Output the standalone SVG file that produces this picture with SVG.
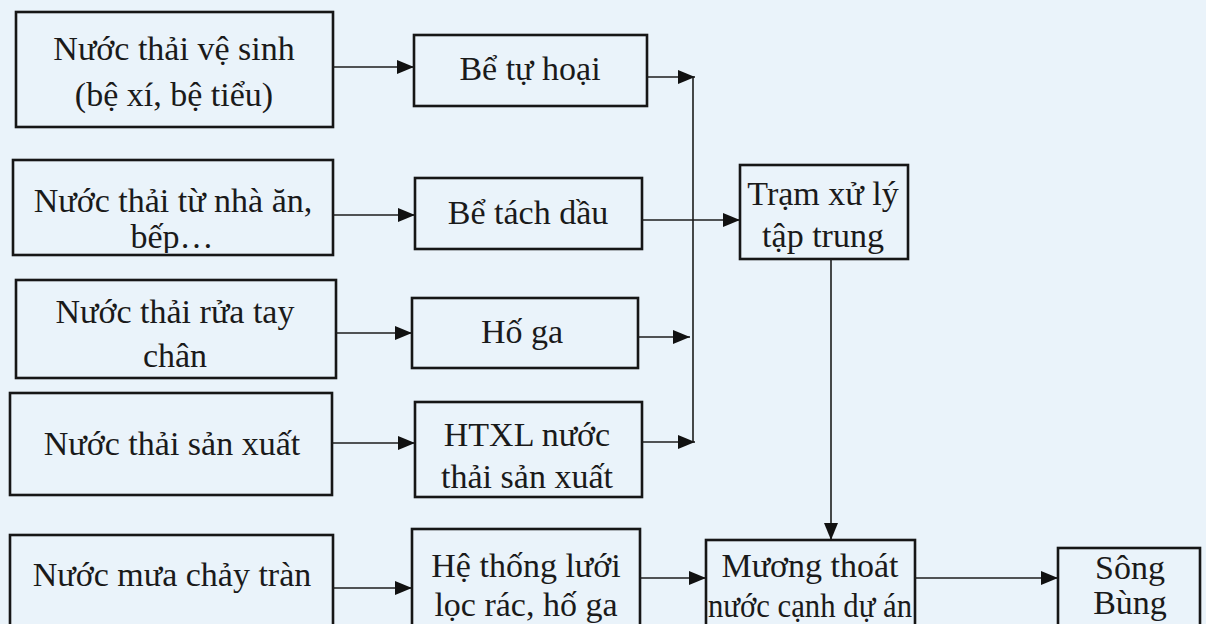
<svg xmlns="http://www.w3.org/2000/svg" width="1206" height="624" viewBox="0 0 1206 624">
<defs>
<style>
.box{fill:none;stroke:#161616;stroke-width:2.6}
.t{font-family:"Liberation Serif","Times New Roman",serif;font-size:34px;fill:#1a1a1a;text-anchor:middle}
.c{fill:none;stroke:#1c1c1c;stroke-width:1.6}
</style>
<marker id="ah" markerUnits="userSpaceOnUse" markerWidth="18" markerHeight="14" refX="17" refY="7" orient="auto">
<path d="M0,0 L17,7 L0,14 z" fill="#111"/>
</marker>
<clipPath id="clip2"><rect x="13" y="160" width="320" height="93"/></clipPath>
</defs>
<rect width="1206" height="624" fill="#eaf3fa"/>

<g id="n1"><rect class="box" x="16" y="12" width="317" height="115"/><text class="t" x="174" y="60">Nước thải vệ sinh</text><text class="t" x="174" y="106">(bệ xí, bệ tiểu)</text></g>
<g id="n2"><rect class="box" x="13" y="160" width="320" height="95"/><text class="t" x="173" y="212">Nước thải từ nhà ăn,</text><text class="t" x="172" y="248" clip-path="url(#clip2)">bếp…</text></g>
<g id="n3"><rect class="box" x="16" y="280" width="320" height="98"/><text class="t" x="175" y="323">Nước thải rửa tay</text><text class="t" x="175" y="367">chân</text></g>
<g id="n4"><rect class="box" x="10" y="393" width="322" height="102"/><text class="t" x="172" y="455">Nước thải sản xuất</text></g>
<g id="n5"><rect class="box" x="10" y="535" width="323" height="100"/><text class="t" x="172" y="586">Nước mưa chảy tràn</text></g>

<g id="n6"><rect class="box" x="414" y="35" width="233" height="71"/><text class="t" x="530" y="80">Bể tự hoại</text></g>
<g id="n7"><rect class="box" x="415" y="178" width="227" height="71"/><text class="t" x="528" y="224">Bể tách dầu</text></g>
<g id="n8"><rect class="box" x="412" y="298" width="226" height="70"/><text class="t" x="522" y="343">Hố ga</text></g>
<g id="n9"><rect class="box" x="415" y="402" width="227" height="95"/><text class="t" x="527" y="446">HTXL nước</text><text class="t" x="527" y="488">thải sản xuất</text></g>
<g id="n10"><rect class="box" x="412" y="529" width="228" height="105"/><text class="t" x="526" y="577">Hệ thống lưới</text><text class="t" x="526" y="616">lọc rác, hố ga</text></g>

<g id="n11"><rect class="box" x="740" y="165" width="168" height="94"/><text class="t" x="823" y="205">Trạm xử lý</text><text class="t" x="823" y="247">tập trung</text></g>
<g id="n12"><rect class="box" x="706" y="540" width="209" height="95"/><text class="t" x="810" y="577">Mương thoát</text><text class="t" x="810" y="617" textLength="204" lengthAdjust="spacingAndGlyphs">nước cạnh dự án</text></g>
<g id="n13"><rect class="box" x="1058" y="548" width="142" height="90"/><text class="t" x="1130" y="579">Sông</text><text class="t" x="1130" y="614">Bùng</text></g>

<g id="connectors">
<line class="c" x1="333" y1="67" x2="414" y2="67" marker-end="url(#ah)"/>
<line class="c" x1="333" y1="215" x2="415" y2="215" marker-end="url(#ah)"/>
<line class="c" x1="336" y1="333" x2="412" y2="333" marker-end="url(#ah)"/>
<line class="c" x1="332" y1="443" x2="415" y2="443" marker-end="url(#ah)"/>
<line class="c" x1="333" y1="588" x2="412" y2="588" marker-end="url(#ah)"/>
<line class="c" x1="647" y1="77" x2="695" y2="77" marker-end="url(#ah)"/>
<line class="c" x1="642" y1="220" x2="740" y2="220" marker-end="url(#ah)"/>
<line class="c" x1="638" y1="337" x2="690" y2="337" marker-end="url(#ah)"/>
<line class="c" x1="642" y1="442" x2="695" y2="442" marker-end="url(#ah)"/>
<line class="c" x1="693" y1="77" x2="693" y2="442"/>
<line class="c" x1="831" y1="259" x2="831" y2="540" marker-end="url(#ah)"/>
<line class="c" x1="640" y1="578" x2="706" y2="578" marker-end="url(#ah)"/>
<line class="c" x1="915" y1="578" x2="1058" y2="578" marker-end="url(#ah)"/>
</g>
</svg>
